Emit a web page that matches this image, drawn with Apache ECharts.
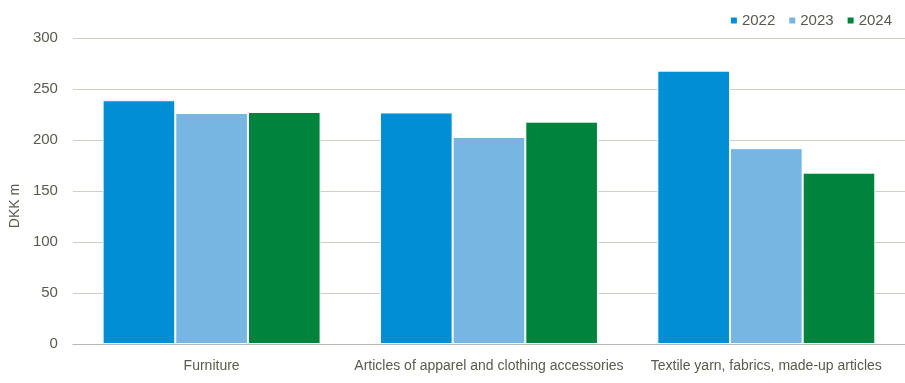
<!DOCTYPE html>
<html><head><meta charset="utf-8">
<script src="https://cdn.jsdelivr.net/npm/echarts@6/dist/echarts.min.js"></script>
<style>html,body{margin:0;padding:0;background:#fff}#c{width:905px;height:383px}</style>
</head><body><div id="c"></div>
<script>
const categories = ["Furniture", "Articles of apparel and clothing accessories", "Textile yarn, fabrics, made-up articles"];
const s2022 = [239, 227, 268];
const s2023 = [226.5, 203, 192];
const s2024 = [227.5, 218, 168];
const yTicks = [0, 50, 100, 150, 200, 250, 300];
const colors = ["#008fd5", "#77b5e3", "#00843d"];
const font = "'Liberation Sans Narrow', 'Arial Narrow', 'Liberation Sans', sans-serif";
const txt = "#5b5a4e";
const chart = echarts.init(document.getElementById('c'), null, {renderer: 'canvas'});
const mk = (name, data, c) => ({name, type: 'bar', data, barGap: '0%', barCategoryGap: '21.4%',
  itemStyle: {color: c, borderColor: '#ffffff', borderWidth: 1}});
chart.setOption({
  animation: false,
  textStyle: {fontFamily: font},
  legend: {top: 8, right: 8, itemWidth: 8, itemHeight: 8, itemGap: 12, icon: 'rect',
    textStyle: {fontFamily: font, fontSize: 15, color: txt, padding: [0, 0, 0, -1]}},
  grid: {left: 72, right: 0, top: 38, bottom: 39, containLabel: false},
  xAxis: {type: 'category', data: categories,
    axisLine: {lineStyle: {color: '#b8b8b0', width: 1}}, axisTick: {show: false},
    axisLabel: {fontFamily: font, fontSize: 14, color: txt, margin: 15, interval: 0}},
  yAxis: {type: 'value', min: yTicks[0], max: yTicks[yTicks.length - 1], interval: 50,
    name: 'DKK m', nameLocation: 'middle', nameGap: 42, nameRotate: 90,
    nameTextStyle: {fontFamily: font, fontSize: 14, color: txt, padding: [0, 30, 0, 0]},
    axisLine: {show: false}, axisTick: {show: false},
    axisLabel: {fontFamily: font, fontSize: 15, color: txt, margin: 15},
    splitLine: {lineStyle: {color: '#cfcfc6', width: 1}}},
  series: [mk('2022', s2022, colors[0]), mk('2023', s2023, colors[1]), mk('2024', s2024, colors[2])]
});
</script></body></html>
